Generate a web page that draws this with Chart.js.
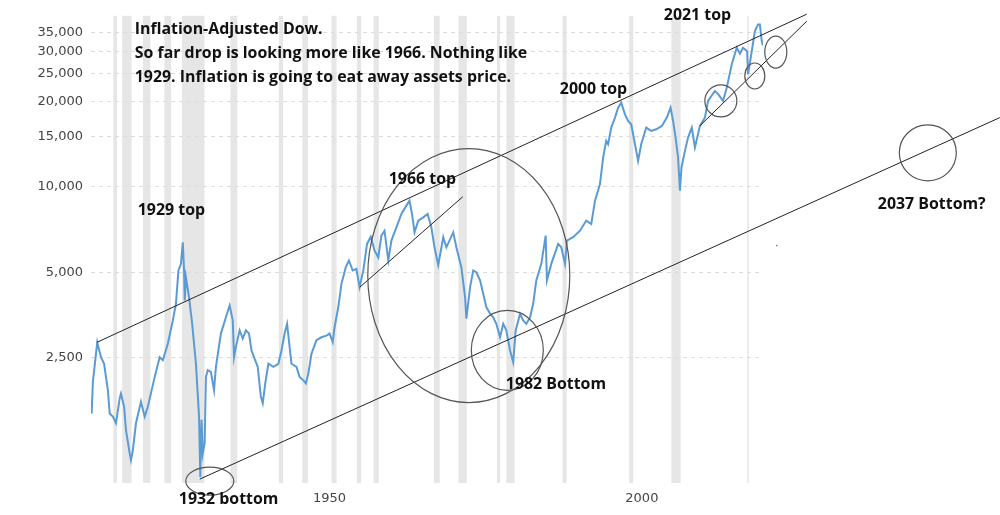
<html>

<head>
    <script src="https://cdn.jsdelivr.net/npm/chart.js"></script>
    <style>
        body { margin: 0; background: #fff; }
        #wrap { width: 1000px; height: 515px; }
    </style>
</head>

<body>
    <div id="wrap"><canvas id="myChart" width="1000" height="515"></canvas></div>
</body>
<script>

    // inflation-adjusted Dow (decimal years)
    var years = [1915.1, 1915.3, 1916.0, 1916.6, 1917.1, 1917.7, 1918.0, 1918.5, 1919.0, 1919.6, 1919.8,
        1920.3, 1920.6, 1921.2, 1921.4, 1921.7, 1922.2, 1923.0, 1923.6, 1924.1, 1925.2, 1926.0, 1926.5,
        1927.3, 1928.1, 1928.6, 1929.0, 1929.4, 1929.7, 1929.9, 1930.0, 1930.2, 1930.7, 1931.2, 1931.8,
        1932.3, 1932.5, 1932.7, 1932.9, 1933.2, 1933.4, 1933.7, 1934.2, 1934.7, 1935.0, 1935.8, 1936.6,
        1937.2, 1937.7, 1937.9, 1938.2, 1938.8, 1939.3, 1939.8, 1940.3, 1940.7, 1941.1, 1941.7, 1942.2,
        1942.5, 1942.9, 1943.4, 1944.2, 1945.0, 1945.5, 1946.0, 1946.4, 1946.8, 1947.1, 1947.9, 1948.4,
        1949.0, 1949.4, 1949.8, 1950.3, 1951.1, 1951.9, 1952.7, 1953.2, 1953.7, 1954.0, 1954.6, 1955.1,
        1955.8, 1956.3, 1956.9, 1957.5, 1958.0, 1958.6, 1959.2, 1959.8, 1960.4, 1961.0, 1961.5, 1962.0,
        1962.6, 1963.1, 1963.9, 1964.7, 1965.5, 1966.0, 1966.4, 1966.8, 1967.4, 1968.2, 1968.9, 1969.5,
        1970.0, 1970.6, 1971.4, 1971.9, 1973.0, 1973.5, 1974.3, 1974.9, 1975.1, 1975.7, 1976.2, 1976.7,
        1977.3, 1977.8, 1978.3, 1978.9, 1979.4, 1979.9, 1980.5, 1981.0, 1981.5, 1982.1, 1982.6, 1983.0,
        1983.7, 1984.2, 1984.7, 1985.3, 1985.8, 1986.3, 1987.1, 1987.8, 1988.0, 1988.7, 1989.8, 1990.3,
        1990.9, 1991.2, 1992.2, 1993.3, 1994.3, 1995.1, 1995.7, 1996.5, 1997.0, 1997.5, 1997.8, 1998.3,
        1998.9, 1999.4, 1999.9, 2000.5, 2001.0, 2001.5, 2002.1, 2002.6, 2003.1, 2003.9, 2004.7, 2005.5,
        2006.4, 2007.2, 2007.8, 2008.2, 2008.6, 2009.0, 2009.3, 2009.55, 2010.1, 2010.6, 2011.2, 2011.7,
        2012.5, 2013.3, 2013.8, 2014.9, 2015.4, 2016.2, 2016.8, 2017.6, 2018.4, 2018.9, 2019.4, 2020.06,
        2020.2, 2020.8, 2021.3, 2021.8, 2022.1, 2022.4, 2022.57];
    var dowValues = [1590, 2050, 2830, 2510, 2380, 1920, 1590, 1550, 1470, 1800, 1870,
        1680, 1390, 1150, 1090, 1180, 1470, 1750, 1550, 1680, 2140, 2510, 2450,
        2800, 3380, 3870, 5070, 5350, 6370, 5070, 3980, 4800, 4080, 3290, 2380,
        1550, 950, 1510, 1150, 1250, 2140, 2260, 2230, 1920, 2320, 3040, 3470,
        3820, 3380, 2510, 2730, 3120, 2920, 3120, 3040, 2650, 2510, 2320, 1820,
        1730, 2030, 2380, 2320, 2380, 2650, 3040, 3290, 2730, 2380, 2320, 2140,
        2080, 2030, 2200, 2580, 2880, 2950, 2990, 3040, 2840, 3200, 3770, 4550,
        5210, 5500, 5070, 5140, 4430, 5070, 6290, 6670, 5960, 5640, 6730, 7000,
        5500, 6460, 7190, 8020, 8580, 8930, 8020, 6910, 7600, 7800, 8020, 7190,
        6120, 5300, 6640, 6120, 6910, 6120, 5210, 4080, 3430, 4430, 5070, 5000,
        4680, 4200, 3770, 3570, 3470, 3290, 2950, 3290, 3120, 2650, 2410, 3120,
        3570, 3380, 3290, 3470, 3870, 4680, 5350, 6730, 4680, 5350, 6290, 6120,
        5350, 6460, 6640, 7000, 7600, 7390, 8930, 10220, 12680, 14500, 14120, 16160,
        17520, 18990, 19780, 17990, 17060, 16590, 14120, 12340, 14120, 16160, 15730, 15940,
        16380, 17520, 18990, 17060, 14900, 12680, 9680, 11690, 13380, 14900, 16160, 13750,
        16380, 17520, 20050, 21750, 21240, 20050, 22340, 26990, 30870, 29420, 30870, 30000,
        24890, 30000, 35320, 37300, 37300, 32580, 31500];

    // NBER recessions (decimal years)
    var recessionStart = [1918.58, 1920.0, 1923.33, 1926.75, 1929.58, 1937.33, 1945.08, 1948.83, 1953.5,
        1957.58, 1960.25, 1969.92, 1973.83, 1980.0, 1981.5, 1990.5, 2001.17, 2007.92, 2020.08];
    var recessionEnd = [1919.17, 1921.5, 1924.5, 1927.83, 1933.17, 1938.42, 1945.75, 1949.75, 1954.33,
        1958.25, 1961.08, 1970.83, 1975.17, 1980.5, 1982.83, 1991.17, 2001.83, 2009.42, 2020.25];

    var yTickValues = [2500, 5000, 10000, 15000, 20000, 25000, 30000, 35000];
    var xTickValues = [1950, 2000];

    // hand-drawn notes on top of the chart, anchored in year / value
    var trendLines = [
        [1915.93, 2830, 2029.62, 40540],
        [1932.42, 934, 2060.52, 17520],
        [1958.04, 4427, 1974.53, 9224],
        [2012.48, 16380, 2029.62, 38310]
    ];
    var circles = [
        [1934.02, 919, 24, 14],
        [1975.49, 4867, 101, 127],
        [1981.66, 2653, 36, 40],
        [2015.85, 20050, 16, 16],
        [2021.29, 24550, 10, 13],
        [2024.65, 29810, 11, 16],
        [2048.99, 13165, 28.5, 28]
    ];
    var notes = [
        ['Inflation-Adjusted Dow.', 1922.01, 34480],
        ['So far drop is looking more like 1966. Nothing like', 1922.01, 28400],
        ['1929. Inflation is going to eat away assets price.', 1922.01, 23390],
        ['1929 top', 1922.49, 7973],
        ['1932 bottom', 1929.06, 763],
        ['1966 top', 1962.68, 10245],
        ['1982 Bottom', 1981.42, 1935],
        ['2000 top', 1990.07, 21220],
        ['2021 top', 2006.72, 38620],
        ['2037 Bottom?', 2040.99, 8369]
    ];

    var bandsPlugin = {
        id: 'bands',
        beforeDraw: function (chart) {
            var ctx = chart.ctx, area = chart.chartArea, xs = chart.scales.x;
            ctx.save();
            ctx.fillStyle = '#e6e6e6';
            for (var i = 0; i < recessionStart.length; i++) {
                var x0 = xs.getPixelForValue(recessionStart[i]);
                var x1 = xs.getPixelForValue(recessionEnd[i]);
                ctx.fillRect(x0, area.top, Math.max(x1 - x0, 1.5), area.bottom - area.top);
            }
            ctx.restore();
        }
    };

    var notesPlugin = {
        id: 'notes',
        afterDraw: function (chart) {
            var ctx = chart.ctx, xs = chart.scales.x, ys = chart.scales.y;
            ctx.save();
            ctx.strokeStyle = '#222';
            ctx.lineWidth = 1;
            trendLines.forEach(function (l) {
                ctx.beginPath();
                ctx.moveTo(xs.getPixelForValue(l[0]), ys.getPixelForValue(l[1]));
                ctx.lineTo(xs.getPixelForValue(l[2]), ys.getPixelForValue(l[3]));
                ctx.stroke();
            });
            ctx.strokeStyle = '#555';
            ctx.lineWidth = 1.2;
            circles.forEach(function (c) {
                ctx.beginPath();
                ctx.ellipse(xs.getPixelForValue(c[0]), ys.getPixelForValue(c[1]), c[2], c[3], 0, 0, Math.PI * 2);
                ctx.stroke();
            });
            // stray dot
            ctx.fillStyle = '#777';
            ctx.fillRect(xs.getPixelForValue(2024.8) - 0.7, ys.getPixelForValue(6205) - 0.7, 1.4, 1.4);

            ctx.fillStyle = '#111';
            ctx.font = 'bold 15.9px "Open Sans"';
            ctx.textBaseline = 'alphabetic';
            ctx.textAlign = 'left';
            notes.forEach(function (n) {
                ctx.fillText(n[0], xs.getPixelForValue(n[1]), ys.getPixelForValue(n[2]));
            });
            ctx.restore();
        }
    };

    var points = years.map(function (y, i) { return { x: y, y: dowValues[i] }; });

    var ctx = document.getElementById("myChart").getContext("2d");
    var chart = new Chart(ctx, {
        type: 'line',
        data: {
            datasets: [{
                data: points,
                borderColor: '#5b9bd5',
                borderWidth: 2,
                pointRadius: 0,
                tension: 0,
                fill: false
            }]
        },
        options: {
            responsive: false,
            animation: false,
            devicePixelRatio: 1,
            layout: { padding: { top: 15, right: 237, left: 0, bottom: 0 } },
            plugins: {
                legend: { display: false },
                tooltip: { enabled: false }
            },
            scales: {
                x: {
                    type: 'linear',
                    min: 1915,
                    max: 2022.6,
                    afterBuildTicks: function (axis) {
                        axis.ticks = xTickValues.map(function (v) { return { value: v }; });
                    },
                    afterFit: function (axis) { axis.height = 32; },
                    grid: { display: false, drawTicks: false },
                    border: { display: false },
                    ticks: {
                        labelOffset: 20,
                        padding: 8,
                        maxRotation: 0,
                        color: '#444',
                        font: { family: 'DejaVu Sans', size: 13 },
                        callback: function (v) { return String(v); }
                    }
                },
                y: {
                    type: 'logarithmic',
                    min: 905,
                    max: 40000,
                    afterBuildTicks: function (axis) {
                        axis.ticks = yTickValues.map(function (v) { return { value: v }; });
                    },
                    afterFit: function (axis) { axis.width = 91; },
                    grid: { color: '#dcdcdc', drawTicks: false },
                    border: { display: false, dash: [4, 4] },
                    ticks: {
                        padding: 8,
                        color: '#444',
                        font: { family: 'DejaVu Sans', size: 13 },
                        callback: function (v) { return Number(v).toLocaleString('en-US'); }
                    }
                }
            }
        },
        plugins: [bandsPlugin, notesPlugin]
    });
</script>

</html>
